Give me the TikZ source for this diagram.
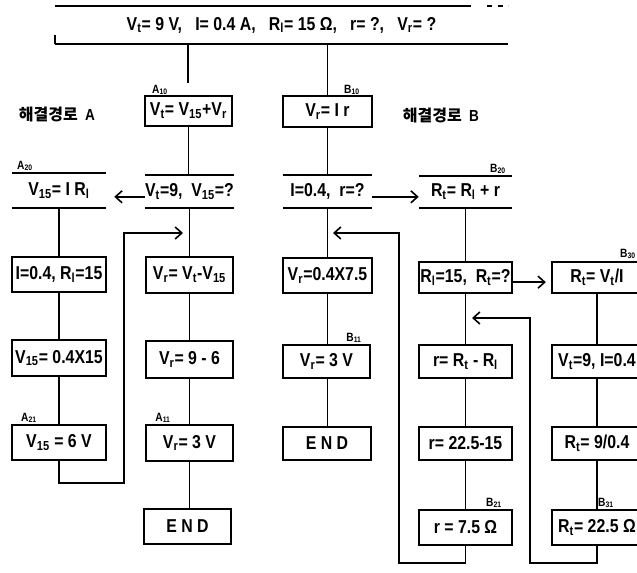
\documentclass[tikz,border=0pt]{standalone}
\usepackage{fontspec}
\setmainfont{Liberation Sans}[FakeStretch=0.85]
\newfontfamily\korfont{Noto Sans CJK KR}
\usetikzlibrary{arrows.meta}
\newcommand\subs[1]{\textsubscript{#1}}
\newcommand\bxf{\bfseries\fontsize{14}{16}\selectfont}
\tikzset{
  bx/.style={draw, line width=1.2pt, inner sep=0pt, font=\bxf},
  obx/.style={inner sep=0pt, font=\bxf},
  ln/.style={line width=1.2pt},
  ar/.style={ln, -{Straight Barb[length=5pt,width=9pt,line width=1.2pt]}},
  lab/.style={inner sep=0pt, font=\bfseries\fontsize{9}{10}\selectfont},
  ttl/.style={inner sep=0pt, font=\bfseries\fontsize{12}{14}\selectfont},
}
\newcommand\bxat[7]{%
  \node[#1, minimum width={(#5-#3)*0.75pt}, minimum height={(#6-#4)*0.75pt}] (#2) at ({(#3+#5)/2},{(#4+#6)/2}) {#7};}
\newcommand\openlines[1]{\draw[ln] (#1.north west) -- (#1.north east) (#1.south west) -- (#1.south east);}
\begin{document}
\begin{tikzpicture}[x=0.75pt,y=-0.75pt]
\useasboundingbox (0,0) rectangle (637,573);
% top box
\bxat{obx}{top}{55}{6}{508}{44}{V\subs{t}= 9 V,\ \ \ I= 0.4 A,\ \ \ R\subs{l}= 15 Ω,\ \ \ r= ?,\ \ \ V\subs{r}= ?}
\draw[ln] (top.north west) -- ([xshift=-28pt]top.north east);
\draw[ln, dash pattern=on 4pt off 4pt] ([xshift=-16pt]top.north east) -- (top.north east);
\draw[ln] (top.south west) -- (top.south east);
\draw[ln] (top.south west) -- ([yshift=7pt]top.south west);
% titles
\node[ttl] (tA) at (57,115) {\korfont 해결경로\ \ \rmfamily A};
\node[ttl] (tB) at (441,116) {\korfont 해결경로\ \ \rmfamily B};
% column A
\bxat{obx}{A20}{12}{173}{106}{208}{V\subs{15}= I R\subs{l}}
\openlines{A20}
\bxat{bx}{A2b}{12}{257}{106}{292}{I=0.4, R\subs{l}=15}
\bxat{bx}{A2c}{12}{340}{106}{376}{V\subs{15}= 0.4X15}
\bxat{bx}{A21}{12}{425}{106}{460}{V\subs{15} = 6 V}
% middle column
\bxat{bx}{A10}{145}{96}{232}{126}{V\subs{t}= V\subs{15}+V\subs{r}}
\bxat{obx}{A12}{146}{175}{233}{208}{V\subs{t}=9,\ \ V\subs{15}=?}
\openlines{A12}
\bxat{bx}{A1b}{146}{257}{233}{293}{V\subs{r}= V\subs{t}-V\subs{15}}
\bxat{bx}{A1c}{146}{341}{233}{378}{V\subs{r}= 9 - 6}
\bxat{bx}{A11}{146}{425}{233}{461}{V\subs{r}= 3 V}
\bxat{bx}{ENDA}{144}{509}{231}{544}{E N D}
% column B1
\bxat{bx}{B10}{283}{96}{372}{127}{V\subs{r}= I r}
\bxat{obx}{B12}{283}{175}{372}{208}{I=0.4,\ \ r=?}
\openlines{B12}
\bxat{bx}{B1b}{283}{258}{372}{293}{V\subs{r}=0.4X7.5}
\bxat{bx}{B11}{283}{345}{370}{378}{V\subs{r}= 3 V}
\bxat{bx}{ENDB}{283}{427}{371}{460}{E N D}
% column B2
\bxat{obx}{B20}{419}{176}{512}{208}{R\subs{t}= R\subs{l} + r}
\openlines{B20}
\bxat{bx}{B2b}{419}{262}{512}{293}{R\subs{l}=15,\ \ R\subs{t}=?}
\bxat{bx}{B2c}{419}{345}{512}{378}{r= R\subs{t} - R\subs{l}}
\bxat{bx}{B2d}{419}{427}{512}{460}{r= 22.5-15}
\bxat{bx}{B21}{419}{510}{512}{545}{r = 7.5 Ω}
% column B3
\bxat{bx}{B30}{552}{262}{642}{293}{R\subs{t}= V\subs{t}/I}
\bxat{bx}{B3b}{552}{345}{642}{378}{V\subs{t}=9, I=0.4}
\bxat{bx}{B3c}{552}{427}{642}{460}{R\subs{t}= 9/0.4}
\bxat{bx}{B31}{552}{510}{642}{545}{R\subs{t}= 22.5 Ω}
% labels
\node[lab] (lA10) at (160,90) {A\subs{10}};
\node[lab] (lB10) at (352,90) {B\subs{10}};
\node[lab] (lA20) at (25,166) {A\subs{20}};
\node[lab] (lB20) at (498,169) {B\subs{20}};
\node[lab] (lB30) at (628,254) {B\subs{30}};
\node[lab] (lB11) at (354,338) {B\subs{11}};
\node[lab] (lA21) at (29,418) {A\subs{21}};
\node[lab] (lA11) at (163,418) {A\subs{11}};
\node[lab] (lB21) at (494,503) {B\subs{21}};
\node[lab] (lB31) at (606,503) {B\subs{31}};
% connectors
\coordinate (a10in) at (188,83);
\draw[ln] (top.south -| a10in) -- (a10in);
\draw[ln] (top.south -| B10.north) -- (B10.north);
\draw[ln] (A10.south) -- (A10.south |- A12.north);
\draw[ln] (A12.south) -- (A12.south |- A1b.north);
\draw[ln] (A1b.south) -- (A1b.south |- A1c.north);
\draw[ln] (A1c.south) -- (A1c.south |- A11.north);
\draw[ln] (A11.south) -- (A11.south |- ENDA.north);
\draw[ln] (A20.south) -- (A20.south |- A2b.north);
\draw[ln] (A2b.south) -- (A2b.south |- A2c.north);
\draw[ln] (A2c.south) -- (A2c.south |- A21.north);
\draw[ar] ([yshift=-4pt]A12.west) -- ([yshift=-4pt,xshift=6pt]A12.west -| A20.east);
\coordinate (fa) at (124,483);
\coordinate (fa2) at (183,233);
\draw[ar] (A21.south) |- (fa) |- (fa2);
\draw[ln] (B10.south) -- (B10.south |- B12.north);
\draw[ln] (B12.south) -- (B12.south |- B1b.north);
\draw[ln] (B1b.south) -- (B1b.south |- B11.north);
\draw[ln] (B11.south -| B1b.south) -- (B1b.south |- ENDB.north);
\draw[ar] ([yshift=-4pt]B12.east) -- ([yshift=-4pt]B12.east -| B20.west);
\draw[ln] (B20.south) -- (B20.south |- B2b.north);
\draw[ln] (B2b.south) -- (B2b.south |- B2c.north);
\draw[ln] (B2c.south) -- (B2c.south |- B2d.north);
\draw[ln] (B2d.south) -- (B2d.south |- B21.north);
\draw[ar] ([yshift=-3.5pt]B2b.east) -- ([yshift=-3.5pt,xshift=-4pt]B2b.east -| B30.west);
\coordinate (fb) at (399,563);
\coordinate (fb2) at (333,233);
\draw[ar] (B21.south) |- (fb) |- (fb2);
\draw[ln] (B30.south) -- (B30.south |- B3b.north);
\draw[ln] (B3b.south) -- (B3b.south |- B3c.north);
\draw[ln] (B3c.south) -- (B3c.south |- B31.north);
\coordinate (fc) at (530,563);
\coordinate (fc2) at (472,318);
\draw[ar] (B31.south) |- (fc) |- (fc2);
\end{tikzpicture}
\end{document}
